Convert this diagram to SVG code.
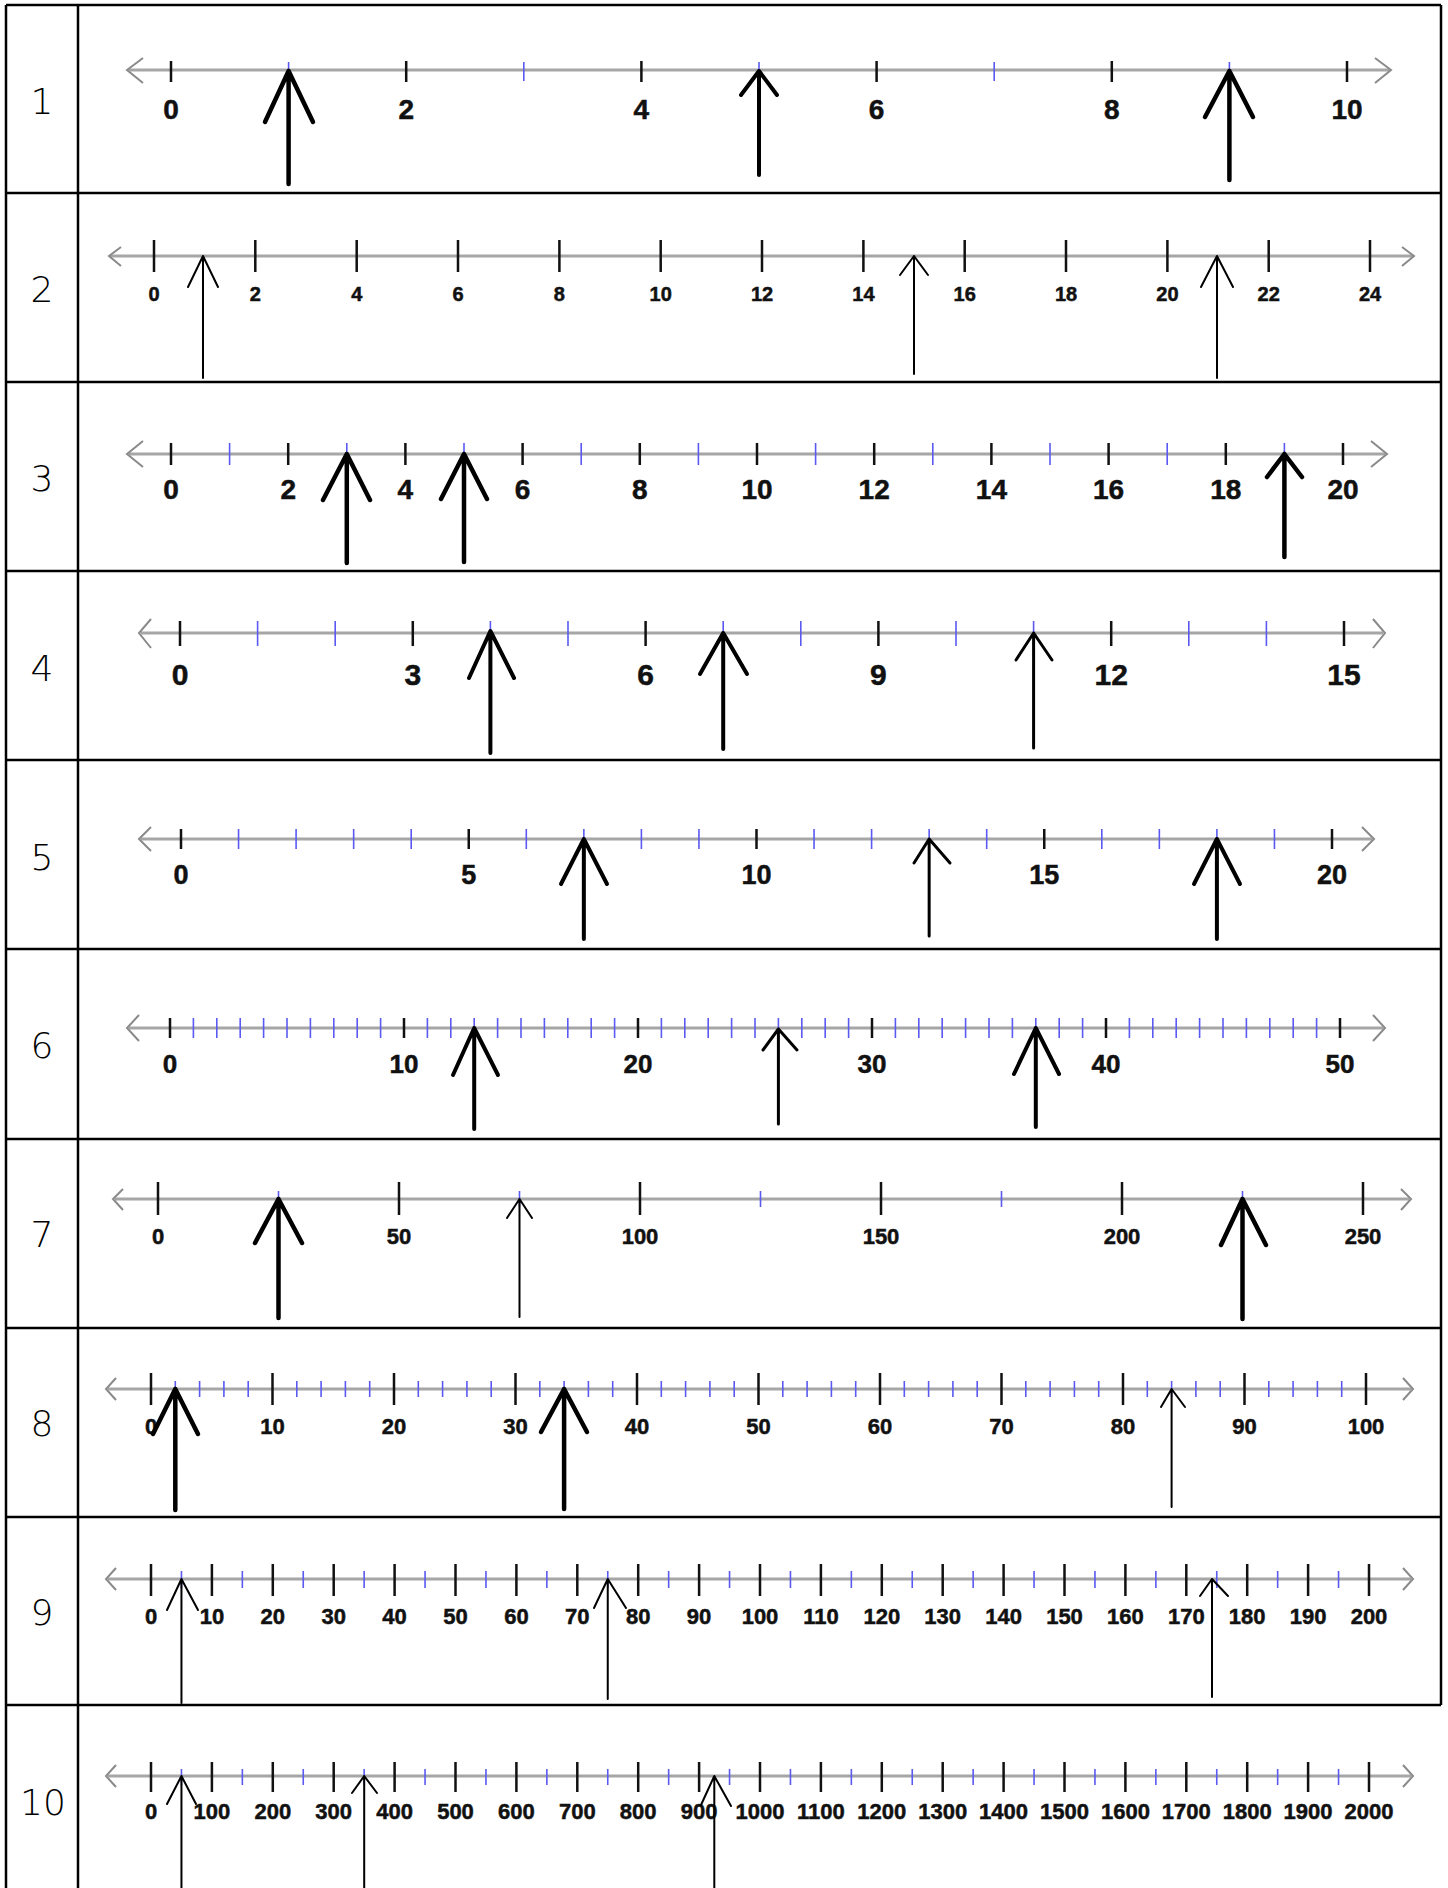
<svg xmlns="http://www.w3.org/2000/svg" width="1448" height="1888" viewBox="0 0 1448 1888">
<style>
.grid{stroke:#000;stroke-width:2.5;fill:none}
.axis{stroke:#a6a6a6;stroke-width:3;fill:none}
.chev{stroke:#8a8a8a;stroke-width:2;fill:none;stroke-linejoin:miter}
.tk{stroke:#111;stroke-width:2.5;fill:none}
.bt{stroke:#5a5af2;stroke-width:1.6;fill:none}
.lbl{font-family:"Liberation Sans",Arial,sans-serif;font-weight:bold;text-anchor:middle;fill:#111;stroke:#111;stroke-width:0.5}
.rn{font-family:"DejaVu Sans","Liberation Sans",sans-serif;font-weight:200;font-size:36px;text-anchor:middle;fill:#000}
.arr{stroke:#000;fill:none;stroke-linecap:round;stroke-linejoin:round}
.thick{stroke-width:4.5}
.thin{stroke-width:2}
</style>
<rect x="0" y="0" width="1448" height="1888" fill="#fff"/>
<g id="table">
<path class="grid" d="M6 5V1888M78 5V1888M1441 5V1705M6 5H1441M6 193H1441M6 382H1441M6 571H1441M6 760H1441M6 949H1441M6 1139H1441M6 1328H1441M6 1517H1441M6 1705H1441"/>
</g>
<g id="row-labels">
<text class="rn" x="42" y="114">1</text>
<text class="rn" x="42" y="302">2</text>
<text class="rn" x="42" y="491">3</text>
<text class="rn" x="42" y="681">4</text>
<text class="rn" x="42" y="870">5</text>
<text class="rn" x="42" y="1058">6</text>
<text class="rn" x="42" y="1247">7</text>
<text class="rn" x="42" y="1436">8</text>
<text class="rn" x="42" y="1625">9</text>
<text class="rn" x="43" y="1815">10</text>
</g>

<g id="line1">
<path class="axis" d="M129 70H1389"/>
<path class="chev" d="M143 58L127 70L143 83M1375 58L1391 70L1375 83"/>
<path class="bt" stroke-width="2" d="M288.6 62V81M523.8 62V81M759 62V81M994.2 62V81M1229.4 62V81"/>
<path class="tk" stroke-width="3" d="M171 61V82M406.2 61V82M641.4 61V82M876.6 61V82M1111.8 61V82M1347 61V82"/>
<g class="lbl" font-size="28">
<text x="171" y="119">0</text><text x="406.2" y="119">2</text><text x="641.4" y="119">4</text><text x="876.6" y="119">6</text><text x="1111.8" y="119">8</text><text x="1347" y="119">10</text>
</g>
</g>

<g id="line2">
<path class="axis" stroke-width="2.5" d="M110 256H1413"/>
<path class="chev" stroke-width="1.5" d="M121 247L109 256L121 266M1402 247L1414 256L1402 266"/>
<path class="tk" d="M154 240V272M255.3 240V272M356.7 240V272M458 240V272M559.4 240V272M660.7 240V272M762 240V272M863.4 240V272M964.7 240V272M1066 240V272M1167.4 240V272M1268.7 240V272M1370 240V272"/>
<g class="lbl" font-size="20" stroke-width="0.3">
<text x="154" y="301">0</text><text x="255.3" y="301">2</text><text x="356.7" y="301">4</text><text x="458" y="301">6</text><text x="559.4" y="301">8</text><text x="660.7" y="301">10</text><text x="762" y="301">12</text><text x="863.4" y="301">14</text><text x="964.7" y="301">16</text><text x="1066" y="301">18</text><text x="1167.4" y="301">20</text><text x="1268.7" y="301">22</text><text x="1370" y="301">24</text>
</g>
</g>

<g id="line3">
<path class="axis" d="M129 454H1385"/>
<path class="chev" d="M143 441L127 454L143 467M1371 441L1387 454L1371 467"/>
<path class="bt" stroke-width="2" d="M229.6 443V465M346.8 443V465M464 443V465M581.2 443V465M698.4 443V465M815.6 443V465M932.8 443V465M1050 443V465M1167.2 443V465M1284.4 443V465"/>
<path class="tk" stroke-width="3" d="M171 443V465M288.2 443V465M405.4 443V465M522.6 443V465M639.8 443V465M757 443V465M874.2 443V465M991.4 443V465M1108.6 443V465M1225.8 443V465M1343 443V465"/>
<g class="lbl" font-size="28">
<text x="171" y="499">0</text><text x="288.2" y="499">2</text><text x="405.4" y="499">4</text><text x="522.6" y="499">6</text><text x="639.8" y="499">8</text><text x="757" y="499">10</text><text x="874.2" y="499">12</text><text x="991.4" y="499">14</text><text x="1108.6" y="499">16</text><text x="1225.8" y="499">18</text><text x="1343" y="499">20</text>
</g>
</g>

<g id="line4">
<path class="axis" d="M141 633H1383"/>
<path class="chev" d="M151 619L139 633L151 648M1373 619L1385 633L1373 648"/>
<path class="bt" d="M257.6 621V646M335.2 621V646M490.4 621V646M568 621V646M723.2 621V646M800.8 621V646M956 621V646M1033.6 621V646M1188.8 621V646M1266.4 621V646"/>
<path class="tk" d="M180 621V646M412.8 621V646M645.6 621V646M878.4 621V646M1111.2 621V646M1344 621V646"/>
<g class="lbl" font-size="30">
<text x="180" y="685">0</text><text x="412.8" y="685">3</text><text x="645.6" y="685">6</text><text x="878.4" y="685">9</text><text x="1111.2" y="685">12</text><text x="1344" y="685">15</text>
</g>
</g>

<g id="line5">
<path class="axis" d="M141 839H1372"/>
<path class="chev" d="M151 827L139 839L151 851M1362 827L1374 839L1362 851"/>
<path class="bt" d="M238.55 829V849M296.1 829V849M353.65 829V849M411.2 829V849M526.3 829V849M583.85 829V849M641.4 829V849M698.95 829V849M814.05 829V849M871.6 829V849M929.15 829V849M986.7 829V849M1101.8 829V849M1159.35 829V849M1216.9 829V849M1274.45 829V849"/>
<path class="tk" d="M181 829V849M468.75 829V849M756.5 829V849M1044.25 829V849M1332 829V849"/>
<g class="lbl" font-size="27">
<text x="181" y="884">0</text><text x="468.75" y="884">5</text><text x="756.5" y="884">10</text><text x="1044.25" y="884">15</text><text x="1332" y="884">20</text>
</g>
</g>

<g id="line6">
<path class="axis" d="M129 1028H1383"/>
<path class="chev" d="M139 1015L127 1028L139 1041M1373 1015L1385 1028L1373 1041"/>
<path class="bt" d="M193.4 1018V1038M216.8 1018V1038M240.2 1018V1038M263.6 1018V1038M287 1018V1038M310.4 1018V1038M333.8 1018V1038M357.2 1018V1038M380.6 1018V1038M427.4 1018V1038M450.8 1018V1038M474.2 1018V1038M497.6 1018V1038M521 1018V1038M544.4 1018V1038M567.8 1018V1038M591.2 1018V1038M614.6 1018V1038M661.4 1018V1038M684.8 1018V1038M708.2 1018V1038M731.6 1018V1038M755 1018V1038M778.4 1018V1038M801.8 1018V1038M825.2 1018V1038M848.6 1018V1038M895.4 1018V1038M918.8 1018V1038M942.2 1018V1038M965.6 1018V1038M989 1018V1038M1012.4 1018V1038M1035.8 1018V1038M1059.2 1018V1038M1082.6 1018V1038M1129.4 1018V1038M1152.8 1018V1038M1176.2 1018V1038M1199.6 1018V1038M1223 1018V1038M1246.4 1018V1038M1269.8 1018V1038M1293.2 1018V1038M1316.6 1018V1038"/>
<path class="tk" d="M170 1018V1038M404 1018V1038M638 1018V1038M872 1018V1038M1106 1018V1038M1340 1018V1038"/>
<g class="lbl" font-size="26">
<text x="170" y="1073">0</text><text x="404" y="1073">10</text><text x="638" y="1073">20</text><text x="872" y="1073">30</text><text x="1106" y="1073">40</text><text x="1340" y="1073">50</text>
</g>
</g>

<g id="line7">
<path class="axis" stroke-width="2.5" d="M115 1199H1409"/>
<path class="chev" stroke-width="1.5" d="M123 1189L113 1199L123 1210M1401 1189L1411 1199L1401 1210"/>
<path class="bt" d="M278.5 1191V1207M519.5 1191V1207M760.5 1191V1207M1001.5 1191V1207M1242.5 1191V1207"/>
<path class="tk" d="M158 1182V1215M399 1182V1215M640 1182V1215M881 1182V1215M1122 1182V1215M1363 1182V1215"/>
<g class="lbl" font-size="22" stroke-width="0.4">
<text x="158" y="1244">0</text><text x="399" y="1244">50</text><text x="640" y="1244">100</text><text x="881" y="1244">150</text><text x="1122" y="1244">200</text><text x="1363" y="1244">250</text>
</g>
</g>

<g id="line8">
<path class="axis" stroke-width="2.5" d="M108 1389H1411"/>
<path class="chev" stroke-width="1.5" d="M116 1378L106 1389L116 1400M1403 1378L1413 1389L1403 1400"/>
<path class="bt" d="M175.3 1381V1397M199.6 1381V1397M223.9 1381V1397M248.2 1381V1397M296.8 1381V1397M321.1 1381V1397M345.4 1381V1397M369.7 1381V1397M418.3 1381V1397M442.6 1381V1397M466.9 1381V1397M491.2 1381V1397M539.8 1381V1397M564.1 1381V1397M588.4 1381V1397M612.7 1381V1397M661.3 1381V1397M685.6 1381V1397M709.9 1381V1397M734.2 1381V1397M782.8 1381V1397M807.1 1381V1397M831.4 1381V1397M855.7 1381V1397M904.3 1381V1397M928.6 1381V1397M952.9 1381V1397M977.2 1381V1397M1025.8 1381V1397M1050.1 1381V1397M1074.4 1381V1397M1098.7 1381V1397M1147.3 1381V1397M1171.6 1381V1397M1195.9 1381V1397M1220.2 1381V1397M1268.8 1381V1397M1293.1 1381V1397M1317.4 1381V1397M1341.7 1381V1397"/>
<path class="tk" d="M151 1373V1405M272.5 1373V1405M394 1373V1405M515.5 1373V1405M637 1373V1405M758.5 1373V1405M880 1373V1405M1001.5 1373V1405M1123 1373V1405M1244.5 1373V1405M1366 1373V1405"/>
<g class="lbl" font-size="22" stroke-width="0.4">
<text x="151" y="1434">0</text><text x="272.5" y="1434">10</text><text x="394" y="1434">20</text><text x="515.5" y="1434">30</text><text x="637" y="1434">40</text><text x="758.5" y="1434">50</text><text x="880" y="1434">60</text><text x="1001.5" y="1434">70</text><text x="1123" y="1434">80</text><text x="1244.5" y="1434">90</text><text x="1366" y="1434">100</text>
</g>
</g>

<g id="line9">
<path class="axis" stroke-width="2.5" d="M108 1579H1411"/>
<path class="chev" stroke-width="1.5" d="M116 1568L106 1579L116 1590M1403 1568L1413 1579L1403 1590"/>
<path class="bt" d="M181.45 1571V1588M242.35 1571V1588M303.25 1571V1588M364.15 1571V1588M425.05 1571V1588M485.95 1571V1588M546.85 1571V1588M607.75 1571V1588M668.65 1571V1588M729.55 1571V1588M790.45 1571V1588M851.35 1571V1588M912.25 1571V1588M973.15 1571V1588M1034.05 1571V1588M1094.95 1571V1588M1155.85 1571V1588M1216.75 1571V1588M1277.65 1571V1588M1338.55 1571V1588"/>
<path class="tk" d="M151 1564V1596M211.9 1564V1596M272.8 1564V1596M333.7 1564V1596M394.6 1564V1596M455.5 1564V1596M516.4 1564V1596M577.3 1564V1596M638.2 1564V1596M699.1 1564V1596M760 1564V1596M820.9 1564V1596M881.8 1564V1596M942.7 1564V1596M1003.6 1564V1596M1064.5 1564V1596M1125.4 1564V1596M1186.3 1564V1596M1247.2 1564V1596M1308.1 1564V1596M1369 1564V1596"/>
<g class="lbl" font-size="22" stroke-width="0.3">
<text x="151" y="1624">0</text><text x="211.9" y="1624">10</text><text x="272.8" y="1624">20</text><text x="333.7" y="1624">30</text><text x="394.6" y="1624">40</text><text x="455.5" y="1624">50</text><text x="516.4" y="1624">60</text><text x="577.3" y="1624">70</text><text x="638.2" y="1624">80</text><text x="699.1" y="1624">90</text><text x="760" y="1624">100</text><text x="820.9" y="1624">110</text><text x="881.8" y="1624">120</text><text x="942.7" y="1624">130</text><text x="1003.6" y="1624">140</text><text x="1064.5" y="1624">150</text><text x="1125.4" y="1624">160</text><text x="1186.3" y="1624">170</text><text x="1247.2" y="1624">180</text><text x="1308.1" y="1624">190</text><text x="1369" y="1624">200</text>
</g>
</g>

<g id="line10">
<path class="axis" stroke-width="2.5" d="M108 1776H1411"/>
<path class="chev" stroke-width="1.5" d="M116 1765L106 1776L116 1787M1403 1765L1413 1776L1403 1787"/>
<path class="bt" d="M181.45 1769V1785M242.35 1769V1785M303.25 1769V1785M364.15 1769V1785M425.05 1769V1785M485.95 1769V1785M546.85 1769V1785M607.75 1769V1785M668.65 1769V1785M729.55 1769V1785M790.45 1769V1785M851.35 1769V1785M912.25 1769V1785M973.15 1769V1785M1034.05 1769V1785M1094.95 1769V1785M1155.85 1769V1785M1216.75 1769V1785M1277.65 1769V1785M1338.55 1769V1785"/>
<path class="tk" d="M151 1762V1792M211.9 1762V1792M272.8 1762V1792M333.7 1762V1792M394.6 1762V1792M455.5 1762V1792M516.4 1762V1792M577.3 1762V1792M638.2 1762V1792M699.1 1762V1792M760 1762V1792M820.9 1762V1792M881.8 1762V1792M942.7 1762V1792M1003.6 1762V1792M1064.5 1762V1792M1125.4 1762V1792M1186.3 1762V1792M1247.2 1762V1792M1308.1 1762V1792M1369 1762V1792"/>
<g class="lbl" font-size="22" stroke-width="0.3">
<text x="151" y="1819">0</text><text x="211.9" y="1819">100</text><text x="272.8" y="1819">200</text><text x="333.7" y="1819">300</text><text x="394.6" y="1819">400</text><text x="455.5" y="1819">500</text><text x="516.4" y="1819">600</text><text x="577.3" y="1819">700</text><text x="638.2" y="1819">800</text><text x="699.1" y="1819">900</text><text x="760" y="1819">1000</text><text x="820.9" y="1819">1100</text><text x="881.8" y="1819">1200</text><text x="942.7" y="1819">1300</text><text x="1003.6" y="1819">1400</text><text x="1064.5" y="1819">1500</text><text x="1125.4" y="1819">1600</text><text x="1186.3" y="1819">1700</text><text x="1247.2" y="1819">1800</text><text x="1308.1" y="1819">1900</text><text x="1369" y="1819">2000</text>
</g>
</g>

<g id="arrows">
<path class="arr thick" d="M288.6 184V71M265 122L288.6 71L313 122"/>
<path class="arr" stroke-width="4" d="M759 175V71M741 95L759 71L777 95"/>
<path class="arr thick" d="M1229.4 180V71M1205 117L1229.4 71L1253 117"/>

<path class="arr thin" d="M203 378V256M188 287L203 256L218 287"/>
<path class="arr thin" d="M914 374V256M900 275L914 256L928 275"/>
<path class="arr thin" d="M1217 378V256M1201 287L1217 256L1233 287"/>

<path class="arr thick" d="M346.8 563V454M323 500L346.8 454L370 500"/>
<path class="arr thick" d="M464 562V454M441 499L464 454L487 499"/>
<path class="arr thick" d="M1284.4 557V454M1267 477L1284.4 454L1302 477"/>

<path class="arr" stroke-width="4" d="M490.4 753V631M469 678L490.4 631L514 678"/>
<path class="arr" stroke-width="4" d="M723.2 749V633M700 674L723.2 633L747 674"/>
<path class="arr" stroke-width="3" d="M1033.6 748V633M1016 660L1033.6 633L1052 660"/>

<path class="arr" stroke-width="4" d="M583.85 939V839M561 884L583.85 839L607 884"/>
<path class="arr" stroke-width="3" d="M929.15 936V839M914 863L929.15 839L950 863"/>
<path class="arr" stroke-width="4" d="M1216.9 939V839M1194 884L1216.9 839L1240 884"/>

<path class="arr" stroke-width="4" d="M474.2 1129V1028M453 1075L474.2 1028L498 1075"/>
<path class="arr" stroke-width="3" d="M778.4 1124V1029M763 1050L778.4 1029L797 1050"/>
<path class="arr" stroke-width="4" d="M1035.8 1127V1028M1014 1074L1035.8 1028L1059 1074"/>

<path class="arr thick" d="M278.5 1318V1199M255 1243L278.5 1199L302 1243"/>
<path class="arr thin" d="M519.5 1317V1199M507 1218L519.5 1199L532 1218"/>
<path class="arr thick" d="M1242.5 1319V1199M1221 1245L1242.5 1199L1266 1245"/>

<path class="arr thick" d="M175.3 1510V1389M153 1434L175.3 1389L198 1434"/>
<path class="arr thick" d="M564.1 1509V1389M541 1432L564.1 1389L587 1432"/>
<path class="arr thin" d="M1171.6 1507V1389M1161 1407L1171.6 1389L1185 1407"/>

<path class="arr thin" d="M181.45 1703V1579M167 1610L181.45 1579L198 1610"/>
<path class="arr thin" d="M607.75 1699V1579M594 1608L607.75 1579L626 1608"/>
<path class="arr thin" d="M1212 1697V1579M1200 1596L1212 1579L1228 1596"/>

<path class="arr thin" d="M181.45 1888V1776M167 1804L181.45 1776L196 1804"/>
<path class="arr thin" d="M364.2 1888V1776M352 1793L364.2 1776L377 1793"/>
<path class="arr thin" d="M714.3 1888V1776M701 1805L714.3 1776L731 1806"/>
</g>
</svg>
